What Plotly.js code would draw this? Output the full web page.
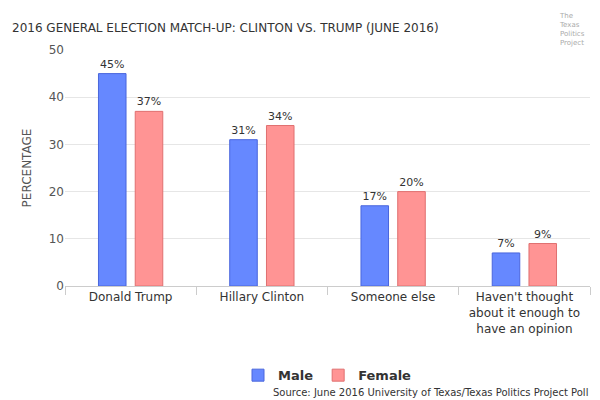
<!DOCTYPE html>
<html>
<head>
<meta charset="utf-8">
<script src="https://cdn.plot.ly/plotly-3.0.1.min.js"></script>
<style>body{margin:0}#chart{width:600px;height:400px}</style>
</head>
<body>
<div id="chart"></div>
<script>
var categories = ["Donald Trump", "Hillary Clinton", "Someone else", "Haven't thought<br>about it enough to<br>have an opinion"];
var male = [45, 31, 17, 7];
var female = [37, 34, 20, 9];

function pct(a) { return a.map(function (v) { return v + "%"; }); }

var trace1 = {
  x: categories, y: male, name: "Male", type: "bar",
  text: pct(male), textposition: "outside", cliponaxis: false,
  textfont: {size: 11, color: "#333"},
  marker: {color: "#6688ff", line: {color: "#4a66dd", width: 1}}
};
var trace2 = {
  x: categories, y: female, name: "Female", type: "bar",
  text: pct(female), textposition: "outside", cliponaxis: false,
  textfont: {size: 11, color: "#333"},
  marker: {color: "#ff9494", line: {color: "#e07070", width: 1}}
};

var layout = {
  width: 600, height: 400,
  font: {family: "DejaVu Sans", size: 11, color: "#333"},
  margin: {l: 65, r: 10, t: 50, b: 112},
  title: {text: "2016 GENERAL ELECTION MATCH-UP: CLINTON VS. TRUMP (JUNE 2016)", x: 0.02, xanchor: "left", y: 0.94, font: {size: 12, color: "#333"}},
  bargap: 0.44, bargroupgap: 0.25,
  xaxis: {automargin: false, tickson: "boundaries", ticks: "outside", ticklen: 8, tickcolor: "#ccc", showline: true, linecolor: "#ccc", tickfont: {size: 12, color: "#333"}},
  yaxis: {automargin: false, title: {text: "PERCENTAGE", font: {size: 12, color: "#555"}}, range: [0, 50], dtick: 10, gridcolor: "#e6e6e6", zeroline: false, tickfont: {size: 12, color: "#555"}},
  legend: {orientation: "h", x: 0.5, xanchor: "center", y: -0.378, yanchor: "middle", font: {size: 13, color: "#333", weight: "bold"}},
  showlegend: true,
  annotations: [
    {text: "Source: June 2016 University of Texas/Texas Politics Project Poll", xref: "paper", yref: "paper", x: 1, y: -0.45, xanchor: "right", yanchor: "middle", showarrow: false, font: {size: 10, color: "#333"}},
    {text: "The<br>Texas<br>Politics<br>Project", xref: "paper", yref: "paper", x: 0.995, y: 1.17, xanchor: "right", yanchor: "top", align: "left", showarrow: false, font: {size: 7, color: "#aaa"}}
  ]
};

Plotly.newPlot("chart", [trace1, trace2], layout, {displayModeBar: false});
</script>
</body>
</html>
